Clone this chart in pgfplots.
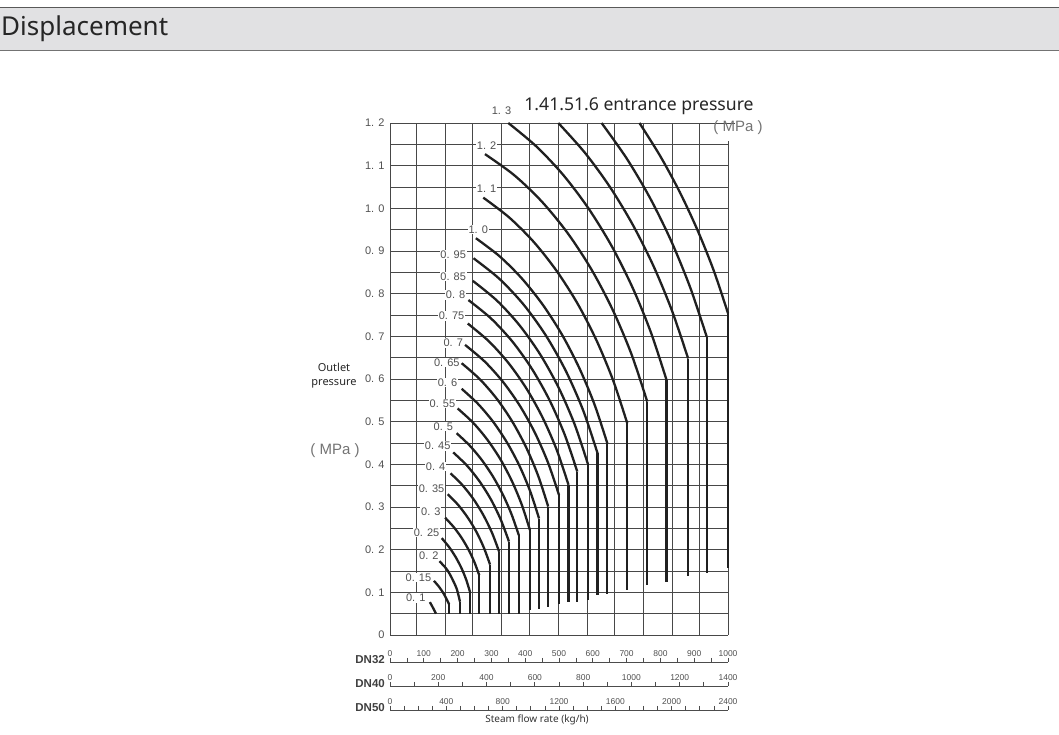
\documentclass[border=0pt]{standalone}
\usepackage{pgfplots}
\pgfplotsset{compat=1.18}
\usepackage{fontspec}
\setmainfont{Noto Sans}
\newfontfamily\lab{Liberation Sans}

\definecolor{band}{HTML}{E1E1E3}
\definecolor{gridc}{HTML}{484848}
\definecolor{curvec}{HTML}{202020}
\definecolor{labc}{HTML}{505050}

\tikzset{
 lbl/.style={fill=white, inner sep=0.8bp, font=\lab\fontsize{11bp}{12bp}\selectfont, text=labc},
}
\pgfplotsset{
 curve/.style={line width=2.3bp, color=curvec, no markers},
 dnaxis/.style={scale only axis, width=338bp, height=1bp, ymin=0, ymax=1,
   axis x line*=top, axis y line=none, ytick=\empty,
   xtick align=outside, major tick length=4bp, minor tick length=4bp,
   tick style={black!70, line width=0.8bp}, axis line style={black!70, line width=0.9bp},
   xticklabel style={font=\lab\fontsize{8.5bp}{9bp}\selectfont, text=labc, inner sep=1.5bp},
   /pgf/number format/1000 sep={}, /pgf/number format/assume math mode=true},
}

\begin{document}
\begin{tikzpicture}[x=1bp,y=1bp]
\useasboundingbox (0,0) rectangle (1059,735);
\fill[band] (0,685) rectangle (1059,727);
\draw[line width=1.5bp, black!65] (0,727.5) -- (1059,727.5);
\draw[line width=1.2bp, black!55] (0,684.5) -- (1059,684.5);
\node[anchor=west, inner sep=0, font=\fontsize{26bp}{28bp}\selectfont, text=black!85] at (1,706) {Displacement};

\begin{axis}[
 at={(390bp,100bp)}, anchor=south west, scale only axis, width=338bp, height=512bp,
 xmin=0, xmax=1000, ymin=0, ymax=1.2,
 clip=false,
 axis line style={draw=none},
 xtick={0,76.9,162.7,242.6,328.4,411.2,497.0,582.8,662.7,748.5,834.3,914.2,1000},
 xticklabels={},
 ytick={0,0.1,0.2,0.3,0.4,0.5,0.6,0.7,0.8,0.9,1.0,1.1,1.2},
 yticklabels={\mbox{0},\mbox{0. 1},\mbox{0. 2},\mbox{0. 3},\mbox{0. 4},\mbox{0. 5},\mbox{0. 6},\mbox{0. 7},\mbox{0. 8},\mbox{0. 9},\mbox{1. 0},\mbox{1. 1},\mbox{1. 2}},
 minor ytick={0.05,0.15,0.25,0.35,0.45,0.55,0.65,0.75,0.85,0.95,1.05,1.15},
 grid=both,
 major grid style={gridc, line width=0.9bp},
 minor grid style={gridc, line width=0.9bp},
 major tick length=0pt, minor tick length=0pt,
 yticklabel style={font=\lab\fontsize{11bp}{12bp}\selectfont, text=labc, xshift=-2bp},
]
% 0.1
\addplot[curve, smooth] coordinates {(118,0.077)(127,0.064)(136,0.050)};
% 0.15
\addplot[curve, smooth] coordinates {(130,0.127)(145,0.113)(158,0.098)(168,0.083)(175,0.072)};
\addplot[curve] coordinates {(175,0.072)(175,0.05)};
% 0.2
\addplot[curve, smooth] coordinates {(146,0.173)(165,0.157)(178,0.141)(197,0.109)(207,0.078)};
\addplot[curve] coordinates {(207,0.078)(207,0.05)};
% 0.25
\addplot[curve, smooth] coordinates {(153,0.227)(174.7,0.2062)(194.1,0.1828)(211.2,0.1571)(225.5,0.1294)(237,0.10)};
\addplot[curve] coordinates {(237,0.10)(237,0.05)};
% 0.3
\addplot[curve, smooth] coordinates {(163,0.275)(188.1,0.2533)(211.0,0.2287)(231.4,0.2014)(249.2,0.1717)(264,0.14)};
\addplot[curve] coordinates {(264,0.14)(264,0.05)};
% 0.35
\addplot[curve, smooth] coordinates {(171,0.33)(202.2,0.3043)(230.6,0.2745)(256.0,0.2411)(277.8,0.2044)(296,0.165)};
\addplot[curve] coordinates {(296,0.165)(296,0.05)};
% 0.4
\addplot[curve, smooth] coordinates {(179,0.379)(214.6,0.3510)(247.2,0.3181)(276.4,0.2807)(301.8,0.2395)(323,0.195)};
\addplot[curve] coordinates {(323,0.195)(323,0.05)};
% 0.45
\addplot[curve, smooth] coordinates {(187,0.428)(227.8,0.3969)(265.2,0.3597)(298.8,0.3173)(327.8,0.2701)(352,0.219)};
\addplot[curve] coordinates {(352,0.219)(352,0.05)};
% 0.5
\addplot[curve, smooth] coordinates {(197,0.473)(235.5,0.4442)(271.3,0.4104)(304.1,0.3721)(333.6,0.3295)(359.3,0.2834)(381,0.234)};
\addplot[curve] coordinates {(381,0.234)(381,0.05)};
% 0.55
\addplot[curve, smooth] coordinates {(200,0.531)(245.4,0.4979)(287.6,0.4581)(326.0,0.4126)(360.2,0.3615)(389.7,0.3056)(414,0.246)};
\addplot[curve] coordinates {(414,0.246)(414,0.059)};
% 0.6
\addplot[curve, smooth] coordinates {(212,0.577)(260.3,0.5417)(305.3,0.4995)(346.4,0.4508)(383.0,0.3965)(414.7,0.3369)(441,0.273)};
\addplot[curve] coordinates {(441,0.273)(441,0.061)};
% 0.65
\addplot[curve, smooth] coordinates {(212,0.637)(265.9,0.5993)(316.3,0.5532)(362.2,0.4996)(403.2,0.4391)(438.6,0.3726)(468,0.301)};
\addplot[curve] coordinates {(468,0.301)(468,0.066)};
% 0.7
\addplot[curve, smooth] coordinates {(222,0.68)(280.3,0.6408)(334.7,0.5928)(384.6,0.5367)(429.1,0.4733)(467.8,0.4033)(500,0.328)};
\addplot[curve] coordinates {(500,0.328)(500,0.072)};
% 0.75
\addplot[curve, smooth] coordinates {(230,0.73)(292.4,0.6884)(350.7,0.6372)(404.1,0.5771)(451.9,0.5088)(493.4,0.4336)(528,0.352)};
\addplot[curve] coordinates {(528,0.352)(528,0.077)};
% 0.8
\addplot[curve, smooth] coordinates {(232,0.785)(299.1,0.7417)(362.2,0.6876)(419.8,0.6238)(471.5,0.5511)(516.4,0.4704)(554,0.383)};
\addplot[curve] coordinates {(554,0.383)(554,0.078)};
% 0.85
\addplot[curve, smooth] coordinates {(245,0.83)(316.1,0.7839)(382.6,0.7264)(443.6,0.6585)(498.1,0.5810)(545.6,0.4950)(585,0.402)};
\addplot[curve] coordinates {(585,0.402)(585,0.082)};
% 0.95
\addplot[curve, smooth] coordinates {(247,0.883)(323.7,0.8347)(395.6,0.7740)(461.4,0.7016)(520.3,0.6187)(571.5,0.5263)(614,0.426)};
\addplot[curve] coordinates {(614,0.426)(614,0.094)};
% 1.0
\addplot[curve, smooth] coordinates {(254,0.93)(323.9,0.8878)(390.1,0.8356)(452.2,0.7738)(509.0,0.7037)(560.1,0.6255)(605.0,0.5403)(643,0.449)};
\addplot[curve] coordinates {(643,0.449)(643,0.096)};
% 1.1
\addplot[curve, smooth] coordinates {(276,1.025)(352.6,0.9786)(425.1,0.9213)(492.9,0.8534)(555.2,0.7762)(611.1,0.6902)(660.3,0.5963)(702,0.496)};
\addplot[curve] coordinates {(702,0.496)(702,0.105)};
% 1.2
\addplot[curve, smooth] coordinates {(281,1.127)(367.0,1.0780)(448.7,1.0162)(525.1,0.9424)(595.3,0.8576)(658.5,0.7626)(714.1,0.6587)(761,0.547)};
\addplot[curve] coordinates {(761,0.547)(761,0.116)};
% 1.3
\addplot[curve, smooth] coordinates {(350,1.2)(433.6,1.1446)(512.9,1.0778)(587.1,0.9999)(655.3,0.9123)(717.0,0.8152)(771.4,0.7102)(818,0.598)};
\addplot[curve] coordinates {(818,0.598)(818,0.125)};
% 1.4
\addplot[curve, smooth] coordinates {(498,1.2)(576.5,1.1303)(650.2,1.0506)(718.0,0.9618)(779.6,0.8646)(834.4,0.7597)(882,0.648)};
\addplot[curve] coordinates {(882,0.648)(882,0.139)};
% 1.5
\addplot[curve, smooth] coordinates {(626,1.2)(700.6,1.1164)(769.5,1.0239)(832.3,0.9227)(888.3,0.8141)(937,0.699)};
\addplot[curve] coordinates {(937,0.699)(937,0.146)};
% 1.6
\addplot[curve, smooth] coordinates {(738,1.2)(799.8,1.1220)(857.2,1.0381)(909.7,0.9490)(957.7,0.8543)(1000,0.754)};
\addplot[curve] coordinates {(1000,0.754)(1000,0.156)};

% frame details
\draw[gridc, line width=0.9bp] (axis cs:1000,1.2) -- (axis cs:1020,1.2);
\draw[white, line width=2bp] (axis cs:1000,1.157) -- (axis cs:1000,1.197);

% curve labels
\node[lbl] at (axis cs:330,1.229) {1. 3};
\node[lbl] at (axis cs:286,1.148) {1. 2};
\node[lbl] at (axis cs:286,1.045) {1. 1};
\node[lbl] at (axis cs:261,0.951) {1. 0};
\node[lbl] at (axis cs:187,0.892) {0. 95};
\node[lbl] at (axis cs:187,0.840) {0. 85};
\node[lbl] at (axis cs:194,0.797) {0. 8};
\node[lbl] at (axis cs:182,0.748) {0. 75};
\node[lbl] at (axis cs:187,0.684) {0. 7};
\node[lbl] at (axis cs:168,0.639) {0. 65};
\node[lbl] at (axis cs:170,0.592) {0. 6};
\node[lbl] at (axis cs:155,0.543) {0. 55};
\node[lbl] at (axis cs:158,0.488) {0. 5};
\node[lbl] at (axis cs:141,0.443) {0. 45};
\node[lbl] at (axis cs:135,0.395) {0. 4};
\node[lbl] at (axis cs:123,0.342) {0. 35};
\node[lbl] at (axis cs:121,0.289) {0. 3};
\node[lbl] at (axis cs:108,0.240) {0. 25};
\node[lbl] at (axis cs:115,0.185) {0. 2};
\node[lbl] at (axis cs:84,0.135) {0. 15};
\node[lbl] at (axis cs:76,0.087) {0. 1};
\end{axis}

% DN scales
\begin{axis}[dnaxis, at={(390bp,73bp)}, anchor=north west, xmin=0, xmax=1000,
  xtick={0,100,...,1000}, minor x tick num=1]
\end{axis}
\begin{axis}[dnaxis, at={(390bp,49bp)}, anchor=north west, xmin=0, xmax=1400,
  xtick={0,200,...,1400}, minor x tick num=1]
\end{axis}
\begin{axis}[dnaxis, at={(390bp,25bp)}, anchor=north west, xmin=0, xmax=2400,
  xtick={0,400,...,2400}, minor x tick num=3]
\end{axis}

\node[anchor=east, inner sep=0, font=\lab\bfseries\fontsize{11.5bp}{12bp}\selectfont, text=black!75] at (385,75) {DN32};
\node[anchor=east, inner sep=0, font=\lab\bfseries\fontsize{11.5bp}{12bp}\selectfont, text=black!75] at (385,51) {DN40};
\node[anchor=east, inner sep=0, font=\lab\bfseries\fontsize{11.5bp}{12bp}\selectfont, text=black!75] at (385,27) {DN50};
\node[font=\fontsize{10bp}{11bp}\selectfont, text=black!80] at (537,15) {Steam flow rate (kg/h)};

% other texts
\node[font=\fontsize{17.6bp}{19bp}\selectfont, text=black!85] at (639,629) {1.41.51.6 entrance pressure};
\node[font=\lab\fontsize{15bp}{16bp}\selectfont, text=black!55] at (738,607) {( MPa )};
\node[align=center, font=\fontsize{11bp}{14bp}\selectfont, text=black!85] at (334,359) {Outlet\\pressure};
\node[font=\lab\fontsize{15bp}{16bp}\selectfont, text=black!55] at (335,284) {( MPa )};
\end{tikzpicture}
\end{document}
